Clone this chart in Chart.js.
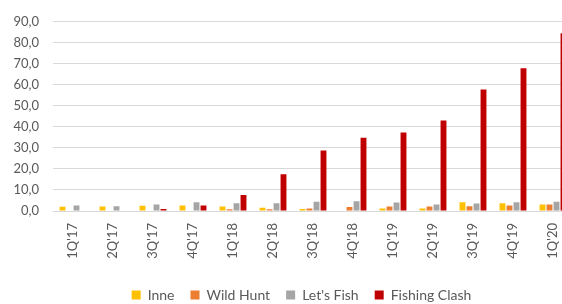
<!DOCTYPE html>
<html>
<head>
<meta charset="utf-8">
<script src="https://cdn.jsdelivr.net/npm/chart.js@4.4.1/dist/chart.umd.min.js"></script>
<style>
  html, body { margin: 0; padding: 0; background: #fff; overflow: hidden; }
  #wrap { width: 602px; height: 304px; }
</style>
</head>
<body>
<div id="wrap"><canvas id="chart" width="602" height="304"></canvas></div>
<script>
// quarters on the x axis
var quarters = ["1Q'17", "2Q'17", "3Q'17", "4Q'17", "1Q'18", "2Q'18", "3Q'18",
                "4Q'18", "1Q'19", "2Q'19", "3Q'19", "4Q'19", "1Q'20"];

// values
var inne         = [2.0, 2.2, 2.5, 2.6, 2.2, 1.6, 0.9, 0.0, 1.2, 1.2, 4.2, 3.7, 3.1];
var wildHunt     = [0.0, 0.0, 0.0, 0.0, 0.8, 0.8, 1.2, 1.9, 2.2, 2.2, 2.3, 2.6, 3.1];
var letsFish     = [2.6, 2.3, 3.1, 4.2, 3.7, 3.7, 4.4, 4.6, 4.0, 3.1, 3.6, 4.2, 4.4];
var fishingClash = [0.0, 0.2, 0.9, 2.6, 7.6, 17.5, 28.8, 34.8, 37.4, 43.0, 57.8, 67.9, 84.5];

var yTicks = [0, 10, 20, 30, 40, 50, 60, 70, 80, 90];

var textColor = '#595959';
var fontFamily = 'Lato, "Open Sans", sans-serif';

function ds(label, data, color) {
  return {
    label: label,
    data: data,
    backgroundColor: color,
    borderWidth: 0,
    categoryPercentage: 0.7,
    barPercentage: 0.84
  };
}

// the original legend is centred on the full (cropped) chart width and sits lower
var legendShift = {
  id: 'legendShift',
  afterLayout: function (chart) {
    chart.legend.left += 15;
    chart.legend.right += 15;
    chart.legend.top += 12;
    chart.legend.bottom += 12;
  }
};

var ctx = document.getElementById('chart').getContext('2d');
var chart = new Chart(ctx, {
  type: 'bar',
  data: {
    labels: quarters,
    datasets: [
      ds('Inne', inne, '#FFC000'),
      ds('Wild Hunt', wildHunt, '#ED7D31'),
      ds("Let's Fish", letsFish, '#A5A5A5'),
      ds('Fishing Clash', fishingClash, '#C00000')
    ]
  },
  plugins: [legendShift],
  options: {
    responsive: false,
    animation: false,
    devicePixelRatio: 1,
    layout: { padding: { left: 0, right: 29, top: 17, bottom: 4 } },
    plugins: {
      tooltip: { enabled: false },
      legend: {
        position: 'bottom',
        labels: {
          boxWidth: 9,
          boxHeight: 9,
          padding: 16,
          color: textColor,
          font: { family: fontFamily, size: 14 }
        }
      }
    },
    scales: {
      x: {
        grid: { display: false, drawTicks: false },
        border: { color: '#D9D9D9', width: 1 },
        ticks: {
          color: textColor,
          font: { family: fontFamily, size: 13 },
          minRotation: 90,
          maxRotation: 90,
          padding: 12,
          autoSkip: false
        },
        afterFit: function (scale) { scale.height = 49; }
      },
      y: {
        min: 0,
        max: 90,
        afterBuildTicks: function (scale) {
          scale.ticks = yTicks.map(function (v) { return { value: v }; });
        },
        grid: { color: '#D9D9D9', lineWidth: 1, drawTicks: false },
        border: { display: false },
        ticks: {
          color: textColor,
          font: { family: fontFamily, size: 13 },
          padding: 14,
          callback: function (v) { return v.toFixed(1).replace('.', ','); }
        },
        afterFit: function (scale) { scale.width = 53; }
      }
    }
  }
});
</script>
</body>
</html>
